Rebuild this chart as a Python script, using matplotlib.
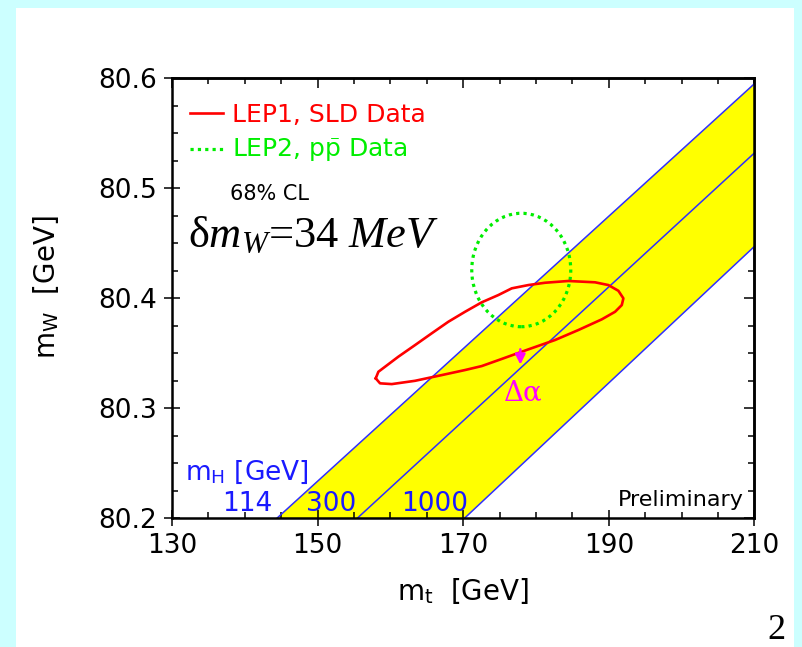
import matplotlib
matplotlib.use('Agg')
import matplotlib.pyplot as plt
from matplotlib.patches import Ellipse, Rectangle
from matplotlib.ticker import MultipleLocator, FixedLocator, FormatStrFormatter

plt.rcParams['font.family'] = ['DejaVu Sans']
plt.rcParams['mathtext.fontset'] = 'custom'
plt.rcParams['mathtext.rm'] = 'Liberation Serif'
plt.rcParams['mathtext.it'] = 'Liberation Serif:italic'
plt.rcParams['mathtext.sf'] = 'DejaVu Sans'

xticks = [130, 150, 170, 190, 210]
yticks = [80.2, 80.3, 80.4, 80.5, 80.6]

# SM bands: m_t at m_W = 80.2 (bottom) and m_W at m_t = 210 (right edge)
mh_labels = ['114', '300', '1000']
band_mt = [[144.45, 210.0], [155.49, 210.0], [170.22, 210.0]]
band_mw = [[80.2, 80.595], [80.2, 80.532], [80.2, 80.447]]

# LEP1/SLD 68% contour
red_mt = [157.99, 158.35, 159.27, 161.09, 163.39, 165.68, 167.96, 170.26, 172.55,
          174.83, 176.67, 178.96, 181.25, 184.45, 188.12, 189.95, 191.32, 192.01,
          191.79, 190.87, 189.04, 185.83, 182.62, 178.96, 175.52, 172.55, 170.26,
          167.06, 163.39, 160.19, 158.58, 157.99]
red_mw = [80.3270, 80.3330, 80.3376, 80.3467, 80.3573, 80.3680, 80.3785, 80.3876,
          80.3962, 80.4028, 80.4089, 80.4119, 80.4140, 80.4156, 80.4144, 80.4119,
          80.4067, 80.3998, 80.3937, 80.3876, 80.3807, 80.3710, 80.3619, 80.3534,
          80.3452, 80.3382, 80.3346, 80.3300, 80.3248, 80.3218, 80.3225, 80.3270]

# LEP2/ppbar direct measurement (68% CL)
green_center = (177.98, 80.4256)
green_width = 13.6
green_height = 0.1032

# Delta alpha shift marker
dalpha_mt = 177.85
dalpha_mw = [80.356, 80.337]

fig = plt.figure(figsize=(8.03, 6.47), dpi=100, facecolor='#ccffff')
fig.patches.append(Rectangle((16 / 803, 0), 778 / 803, 639 / 647,
                             transform=fig.transFigure, facecolor='white',
                             edgecolor='none', zorder=-10))

ax = fig.add_axes([0.2142, 0.1994, 0.7252, 0.6796])
ax.set_xlim(130, 210)
ax.set_ylim(80.2, 80.6)

# yellow band between 114 and 1000 lines
ax.fill(band_mt[0] + band_mt[2][::-1], band_mw[0] + band_mw[2][::-1],
        color='#ffff00', lw=0, zorder=1)
for mt, mw in zip(band_mt, band_mw):
    ax.plot(mt, mw, color='#2f2fff', lw=1.1, zorder=2)

ax.plot(red_mt, red_mw, color='#ff0000', lw=1.9, zorder=4)
ax.add_patch(Ellipse(green_center, green_width, green_height, fill=False,
                     edgecolor='#00ee00', lw=2.3, ls=(0, (1, 1.3)), zorder=3))

ax.annotate('', xy=(dalpha_mt, dalpha_mw[1]), xytext=(dalpha_mt, dalpha_mw[0]),
            arrowprops=dict(arrowstyle='-|>', color='#ff00ff', lw=1.8,
                            mutation_scale=15), zorder=5)
ax.text(dalpha_mt + 0.45, 80.314, 'Δα', color='#ff00ff', fontsize=20,
        family='DejaVu Serif', ha='center', va='center')

# legend-like annotations
ax.plot([0.031, 0.0876], [0.920, 0.920], color='#ff0000', lw=1.9,
        transform=ax.transAxes)
ax.plot([0.031, 0.0876], [0.8385, 0.8385], color='#00ee00', lw=2.3,
        ls=(0, (1, 1.3)), transform=ax.transAxes)
ax.text(0.1026, 0.9013, 'LEP1, SLD Data', color='#ff0000', fontsize=18,
        va='baseline', transform=ax.transAxes)
ax.text(0.1026, 0.8217, r'LEP2, p$\bar{\mathsf{p}}$ Data', color='#00ee00',
        fontsize=18, va='baseline', transform=ax.transAxes)
ax.text(0.0997, 0.7232, '68% CL', color='black', fontsize=15,
        va='baseline', transform=ax.transAxes)
ax.text(0.0275, 0.617, r'δ$m_W$=34 $MeV$', family='Liberation Serif',
        fontsize=32, va='baseline', transform=ax.transAxes)

ax.text(0.0223, 0.0864, r'm$_\mathsf{H}$ [GeV]', color='#1a1aff', fontsize=19,
        va='baseline', transform=ax.transAxes)
for lab, xpos in zip(mh_labels, [0.0854, 0.23, 0.3943]):
    ax.text(xpos, 0.0159, lab, color='#1a1aff', fontsize=19, va='baseline',
            transform=ax.transAxes)
ax.text(0.981, 0.027, 'Preliminary', color='black', fontsize=16, ha='right',
        va='baseline', transform=ax.transAxes)

# axes, ticks
for sp in ax.spines.values():
    sp.set_linewidth(1.8)
ax.xaxis.set_major_locator(FixedLocator(xticks))
ax.xaxis.set_minor_locator(MultipleLocator(5))
ax.yaxis.set_major_locator(FixedLocator(yticks))
ax.yaxis.set_minor_locator(MultipleLocator(0.025))
ax.tick_params(which='major', direction='inout', length=11, width=1.1,
               labelsize=19, pad=5)
ax.tick_params(which='minor', direction='in', length=4, width=1.1)
ax.yaxis.set_major_formatter(FormatStrFormatter('%.1f'))

top = ax.secondary_xaxis('top')
top.xaxis.set_major_locator(FixedLocator(xticks))
top.xaxis.set_minor_locator(MultipleLocator(5))
top.tick_params(which='major', direction='in', length=7, width=1.1, labeltop=False)
top.tick_params(which='minor', direction='in', length=4, width=1.1)
right = ax.secondary_yaxis('right')
right.yaxis.set_major_locator(FixedLocator(yticks))
right.yaxis.set_minor_locator(MultipleLocator(0.025))
right.tick_params(which='major', direction='in', length=7, width=1.1, labelright=False)
right.tick_params(which='minor', direction='in', length=4, width=1.1)
for s in (top, right):
    for sp in s.spines.values():
        sp.set_linewidth(1.8)

ax.set_xlabel(r'm$_\mathsf{t}$  [GeV]', fontsize=20)
ax.xaxis.set_label_coords(0.5, -0.133)
ax.xaxis.label.set_va('top')
ax.set_ylabel(r'm$_\mathsf{W}$  [GeV]', fontsize=20)
ax.yaxis.set_label_coords(-0.19, 0.525)

fig.text(776 / 803, 0.012, '2', family='Liberation Serif', fontsize=26,
         ha='center', va='baseline')

fig.savefig('out.png', dpi=100, facecolor=fig.get_facecolor())
